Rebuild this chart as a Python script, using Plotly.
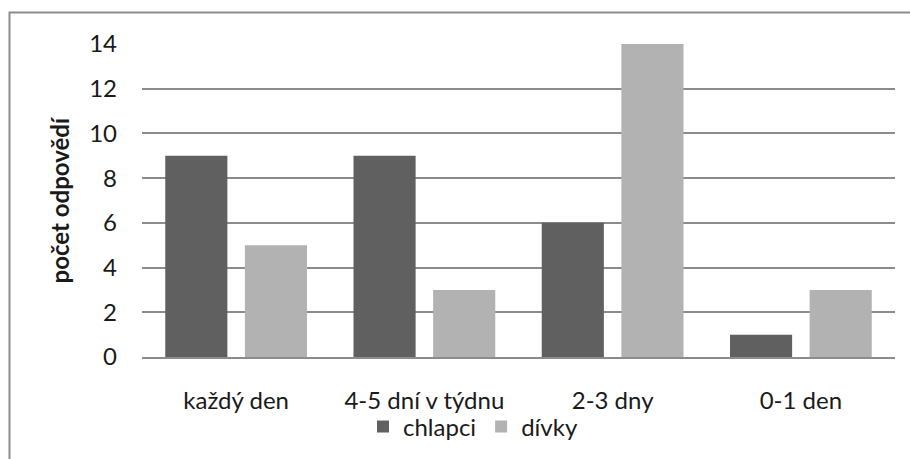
import plotly.graph_objects as go

categories = ["každý den", "4-5 dní v týdnu", "2-3 dny", "0-1 den"]
chlapci = [9, 9, 6, 1]
divky = [5, 3, 14, 3]
y_ticks = [0, 2, 4, 6, 8, 10, 12, 14]

W, H = 910, 459
L, R, T, B = 142, 15, 44, 102
plot_w = W - L - R
plot_h = H - T - B

font = "Lato, Carlito, Calibri, sans-serif"
txt = "#1a1a1a"
fs = 24

fig = go.Figure()
fig.add_trace(go.Bar(name="chlapci", x=categories, y=chlapci,
                     marker=dict(color="#606060", line=dict(width=0))))
fig.add_trace(go.Bar(name="dívky", x=categories, y=divky,
                     marker=dict(color="#b2b2b2", line=dict(width=0))))

# outer chart frame (left and top edges visible)
x0 = (9.5 - L) / plot_w
y1 = 1 + (T - 12.5) / plot_h
fig.add_shape(type="rect", xref="paper", yref="paper",
              x0=x0, x1=1 + (R + 20) / plot_w, y0=-(B + 20) / plot_h, y1=y1,
              line=dict(color="#8c8c8c", width=2), layer="below")

# rotated value-axis title
fig.add_annotation(text="<b>počet odpovědí</b>", xref="paper", yref="paper",
                   x=(59 - L) / plot_w, y=0.5, textangle=-90, showarrow=False,
                   xanchor="center", yanchor="middle",
                   font=dict(family=font, size=fs, color=txt))

fig.update_layout(
    width=W, height=H,
    margin=dict(l=L, r=R, t=T, b=B, autoexpand=False),
    paper_bgcolor="white", plot_bgcolor="white",
    barmode="group", bargap=0.154, bargroupgap=0.22,
    font=dict(family=font, size=fs, color=txt),
    showlegend=True,
    legend=dict(orientation="h", x=(473 - L) / plot_w, xanchor="center",
                y=-(427 - (H - B)) / plot_h, yanchor="middle",
                bgcolor="rgba(0,0,0,0)",
                font=dict(family=font, size=fs, color=txt),
                itemwidth=30, traceorder="normal", tracegroupgap=0),
    xaxis=dict(showline=True, linecolor="#8c8c8c", linewidth=2, ticks="",
               tickfont=dict(family=font, size=fs, color=txt), showgrid=False,
               ticklabelstandoff=21, automargin=False),
    yaxis=dict(range=[0, 14], tickvals=y_ticks, showgrid=True, gridcolor="#8c8c8c",
               gridwidth=1.5, zeroline=False, showline=False, ticks="",
               tickfont=dict(family=font, size=fs, color=txt),
               ticklabelstandoff=24, automargin=False),
)

fig.write_html("out.html")
